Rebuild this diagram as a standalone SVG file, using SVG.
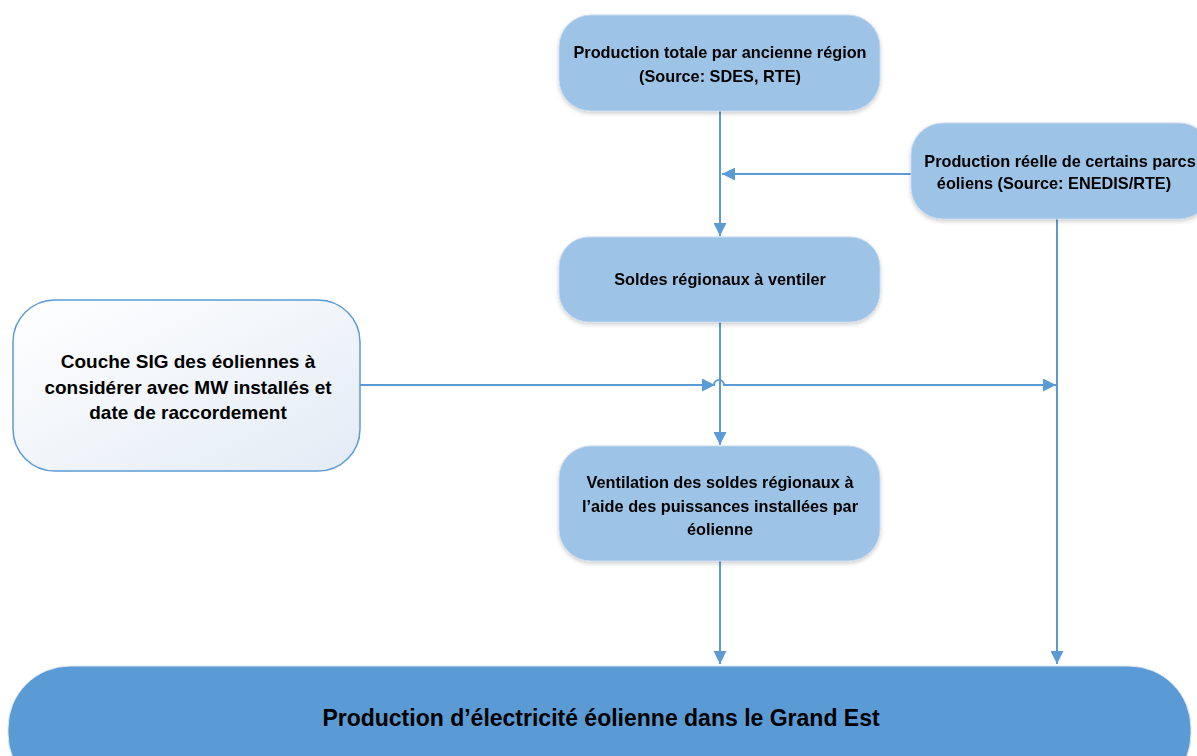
<svg xmlns="http://www.w3.org/2000/svg" width="1197" height="756" viewBox="0 0 1197 756">
<style>
.box{fill:#9dc3e6;stroke:#c9d9ee;stroke-width:1}
.t{font-family:"Liberation Sans",Arial,sans-serif;font-weight:bold;fill:#000;text-anchor:middle}
.s{font-size:16.3px}
.l{font-size:19px}
.b{font-size:23px}
.c{fill:none;stroke:#5b9bd5;stroke-width:2}
</style>
<defs>
<marker id="ah2" viewBox="0 0 10 10" refX="10" refY="5" markerWidth="6.5" markerHeight="6.5" orient="auto">
<path d="M0,0 L10,5 L0,10 z" fill="#5b9bd5"/>
</marker>
<linearGradient id="lg" x1="0" y1="0" x2="1" y2="1">
<stop offset="0" stop-color="#ffffff"/>
<stop offset="1" stop-color="#e3ebf5"/>
</linearGradient>
<filter id="sh" x="-10%" y="-10%" width="120%" height="130%">
<feGaussianBlur in="SourceAlpha" stdDeviation="2"/>
<feOffset dx="0" dy="2" result="o"/>
<feComponentTransfer><feFuncA type="linear" slope="0.2"/></feComponentTransfer>
<feMerge><feMergeNode/><feMergeNode in="SourceGraphic"/></feMerge>
</filter>
</defs>
<rect width="1197" height="756" fill="#ffffff"/>
<g id="connectors">
<path class="c" d="M720,111 V236" marker-end="url(#ah2)"/>
<path class="c" d="M911,174 H722" marker-end="url(#ah2)"/>
<path class="c" d="M720,322 V445" marker-end="url(#ah2)"/>
<path class="c" d="M360,385 H715" marker-end="url(#ah2)"/>
<path class="c" d="M714,385 a5,5 0 0 1 10,0 H1056" marker-end="url(#ah2)"/>
<path class="c" d="M1057,219 V664" marker-end="url(#ah2)"/>
<path class="c" d="M720,561 V664" marker-end="url(#ah2)"/>
</g>
<g id="n1" filter="url(#sh)">
<rect class="box" x="559" y="15" width="321" height="96" rx="32"/>
<text class="t s" x="720" y="58">Production totale par ancienne région</text>
<text class="t s" x="720" y="82">(Source: SDES, RTE)</text>
</g>
<g id="n2" filter="url(#sh)">
<rect class="box" x="911" y="123" width="300" height="96" rx="32"/>
<text class="t s" x="1060" y="167">Production réelle de certains parcs</text>
<text class="t s" x="1054" y="189">éoliens (Source: ENEDIS/RTE)</text>
</g>
<g id="n3" filter="url(#sh)">
<rect class="box" x="559" y="237" width="321" height="85" rx="30"/>
<text class="t s" x="720" y="285">Soldes régionaux à ventiler</text>
</g>
<g id="n4">
<rect x="13" y="300" width="347" height="171" rx="42" fill="url(#lg)" stroke="#5b9bd5" stroke-width="1.5"/>
<text class="t l" x="188" y="368">Couche SIG des éoliennes à</text>
<text class="t l" x="188" y="394">considérer avec MW installés et</text>
<text class="t l" x="188" y="419">date de raccordement</text>
</g>
<g id="n5" filter="url(#sh)">
<rect class="box" x="559" y="446" width="321" height="115" rx="32"/>
<text class="t s" x="720" y="488">Ventilation des soldes régionaux à</text>
<text class="t s" x="720" y="512">l’aide des puissances installées par</text>
<text class="t s" x="720" y="535">éolienne</text>
</g>
<g id="n6">
<rect x="8" y="666" width="1183" height="130" rx="62" fill="#5b9bd5" stroke="#e0e8f2" stroke-width="1"/>
<text class="t b" x="601" y="726">Production d’électricité éolienne dans le Grand Est</text>
</g>
</svg>
